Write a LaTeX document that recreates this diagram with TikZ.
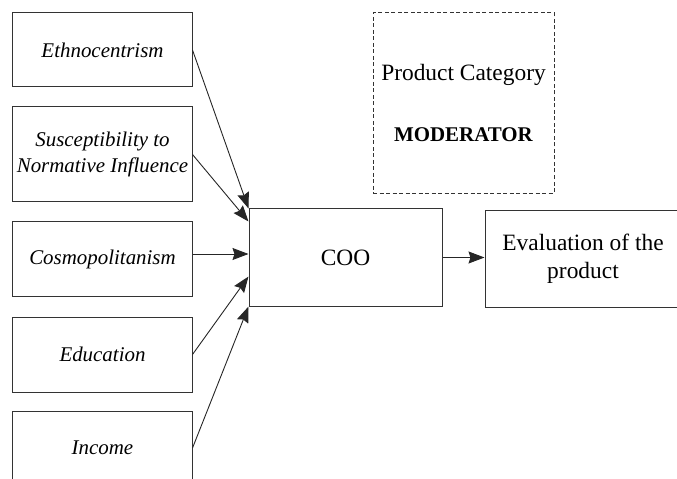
\documentclass[tikz,border=0pt]{standalone}
\usepackage{fontspec}
\setmainfont{Liberation Serif}
\usetikzlibrary{arrows.meta}

\begin{document}
\begin{tikzpicture}[
        x=1bp, y=-1bp,
        every node/.style={font=\fontsize{23.5}{28}\selectfont},
        factor/.style={rectangle, draw=black!80, line width=1bp, inner sep=0pt,
            minimum width=179bp, align=center,
            font=\fontsize{21}{27}\selectfont\itshape},
        box/.style={rectangle, draw=black!80, line width=1bp, inner sep=0pt,
            align=center},
        arrow/.style={-{Stealth[length=16bp,width=12bp,inset=2bp]}, line width=0.9bp, draw=black!85}
      ]
      \useasboundingbox (0,0) rectangle (677,479);

      \node[factor, minimum height=74bp]  (eth)  at (102.5,50)    {Ethnocentrism};
      \node[factor, minimum height=95bp]  (sus)  at (102.5,154.5) {Susceptibility to\\Normative Influence};
      \node[factor, minimum height=74bp]  (cos)  at (102.5,259)   {Cosmopolitanism};
      \node[factor, minimum height=75bp]  (edu)  at (102.5,354.5) {Education};
      \node[factor, minimum height=74bp]  (inc)  at (102.5,448)   {Income};

      \node[box, minimum width=193bp, minimum height=97bp]
      (coo)  at (345.5,257.5) {COO};
      \node[box, minimum width=196bp, minimum height=96bp]
      (eval) at (583,259) {Evaluation of the\\product};

      \node[box, draw=black!80, dash pattern=on 4bp off 2.5bp,
        minimum width=181bp, minimum height=180bp]
      (mod) at (463.5,103) {Product Category\\[34bp]\textbf{\fontsize{21}{27}\selectfont MODERATOR}};

      \draw[arrow] (eth.east) -- (coo.north west);
      \draw[arrow] (sus.east) -- ([yshift=-13bp]coo.north west);
      \draw[arrow] ([yshift=5bp]cos.east) -- ([yshift=5bp]cos.east -| coo.west);
      \draw[arrow] (edu.east) -- ([yshift=-19bp]coo.west);
      \draw[arrow] (inc.east) -- (coo.south west);

      \draw[arrow] (coo.east) -- (coo.east -| eval.west);
    \end{tikzpicture}
\end{document}
